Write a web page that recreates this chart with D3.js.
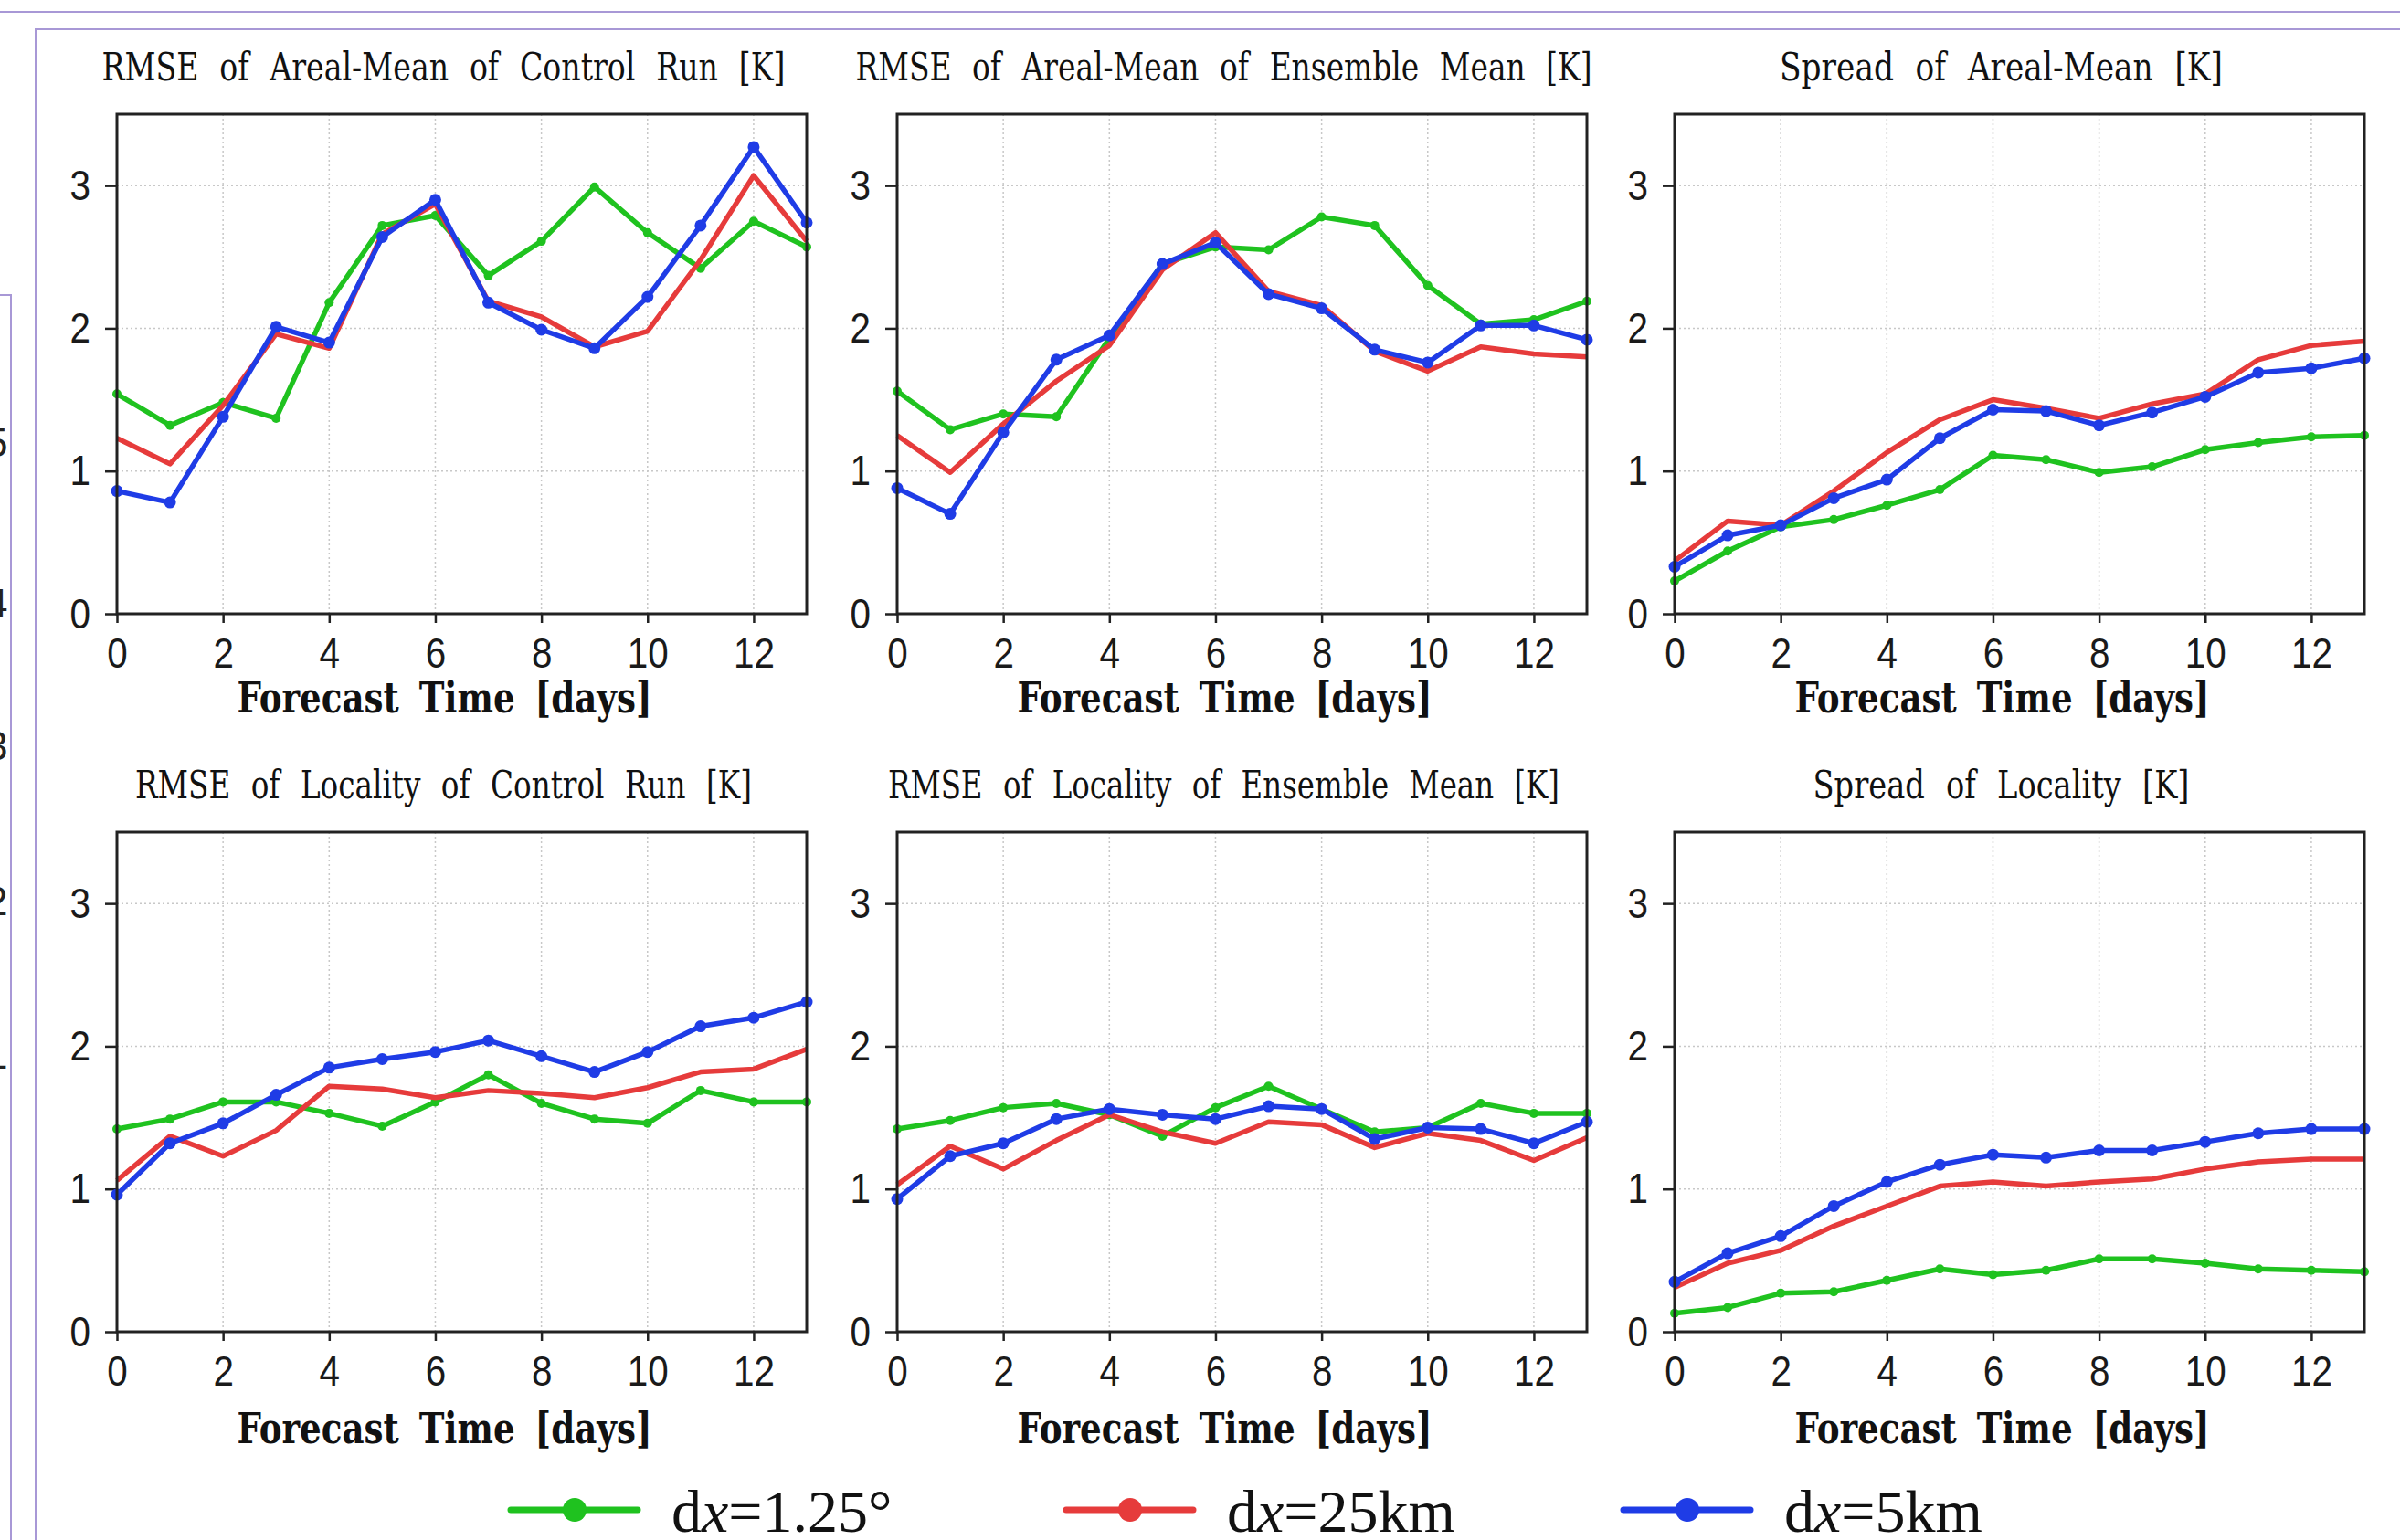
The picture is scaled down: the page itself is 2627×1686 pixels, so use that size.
<!DOCTYPE html>
<html>
<head>
<meta charset="utf-8">
<script src="https://cdn.jsdelivr.net/npm/d3@7"></script>
<style>
  html, body { margin: 0; padding: 0; background: #fff; }
  svg { display: block; }
</style>
</head>
<body>
<div id="chart"></div>
<script>
// forecast days on the x axis
const days = [0, 1, 2, 3, 4, 5, 6, 7, 8, 9, 10, 11, 12, 13];
const xTicks = [0, 2, 4, 6, 8, 10, 12];
const yTicks = [0, 1, 2, 3];

const panelTitles = [
  "RMSE of Areal-Mean of Control Run [K]",
  "RMSE of Areal-Mean of Ensemble Mean [K]",
  "Spread of Areal-Mean [K]",
  "RMSE of Locality of Control Run [K]",
  "RMSE of Locality of Ensemble Mean [K]",
  "Spread of Locality [K]"
];
const xLabel = "Forecast Time [days]";

// series values (one array per panel and resolution)
const areaCtrl125 = [1.54, 1.32, 1.48, 1.37, 2.18, 2.72, 2.79, 2.37, 2.61, 2.99, 2.67, 2.42, 2.75, 2.57];
const areaCtrl25  = [1.23, 1.05, 1.46, 1.96, 1.86, 2.66, 2.87, 2.19, 2.08, 1.87, 1.98, 2.48, 3.07, 2.61];
const areaCtrl5   = [0.86, 0.78, 1.38, 2.01, 1.90, 2.64, 2.90, 2.18, 1.99, 1.86, 2.22, 2.72, 3.27, 2.74];

const areaEns125 = [1.56, 1.29, 1.40, 1.38, 1.93, 2.45, 2.57, 2.55, 2.78, 2.72, 2.30, 2.03, 2.06, 2.19];
const areaEns25  = [1.25, 0.99, 1.33, 1.63, 1.88, 2.41, 2.67, 2.26, 2.16, 1.84, 1.70, 1.87, 1.82, 1.80];
const areaEns5   = [0.88, 0.70, 1.27, 1.78, 1.95, 2.45, 2.60, 2.24, 2.14, 1.85, 1.76, 2.02, 2.02, 1.92];

const areaSpr125 = [0.23, 0.44, 0.61, 0.66, 0.76, 0.87, 1.11, 1.08, 0.99, 1.03, 1.15, 1.20, 1.24, 1.25];
const areaSpr25  = [0.37, 0.65, 0.62, 0.86, 1.13, 1.36, 1.50, 1.44, 1.37, 1.47, 1.54, 1.78, 1.88, 1.91];
const areaSpr5   = [0.33, 0.55, 0.62, 0.81, 0.94, 1.23, 1.43, 1.42, 1.32, 1.41, 1.52, 1.69, 1.72, 1.79];

const locCtrl125 = [1.42, 1.49, 1.61, 1.61, 1.53, 1.44, 1.61, 1.80, 1.60, 1.49, 1.46, 1.69, 1.61, 1.61];
const locCtrl25  = [1.06, 1.37, 1.23, 1.41, 1.72, 1.70, 1.64, 1.69, 1.67, 1.64, 1.71, 1.82, 1.84, 1.98];
const locCtrl5   = [0.96, 1.32, 1.46, 1.66, 1.85, 1.91, 1.96, 2.04, 1.93, 1.82, 1.96, 2.14, 2.20, 2.31];

const locEns125 = [1.42, 1.48, 1.57, 1.60, 1.52, 1.37, 1.57, 1.72, 1.56, 1.40, 1.43, 1.60, 1.53, 1.53];
const locEns25  = [1.03, 1.30, 1.14, 1.34, 1.52, 1.40, 1.32, 1.47, 1.45, 1.29, 1.39, 1.34, 1.20, 1.36];
const locEns5   = [0.93, 1.23, 1.32, 1.49, 1.56, 1.52, 1.49, 1.58, 1.56, 1.35, 1.43, 1.42, 1.32, 1.47];

const locSpr125 = [0.13, 0.17, 0.27, 0.28, 0.36, 0.44, 0.40, 0.43, 0.51, 0.51, 0.48, 0.44, 0.43, 0.42];
const locSpr25  = [0.31, 0.48, 0.57, 0.74, 0.88, 1.02, 1.05, 1.02, 1.05, 1.07, 1.14, 1.19, 1.21, 1.21];
const locSpr5   = [0.35, 0.55, 0.67, 0.88, 1.05, 1.17, 1.24, 1.22, 1.27, 1.27, 1.33, 1.39, 1.42, 1.42];

const seriesNames = ["1.25°", "25km", "5km"];
const seriesColors = ["#1fc21f", "#e63b3b", "#1f3ce6"];
const markerRadius = [5, 0, 6.5];

const panelSeries = [
  [areaCtrl125, areaCtrl25, areaCtrl5],
  [areaEns125, areaEns25, areaEns5],
  [areaSpr125, areaSpr25, areaSpr5],
  [locCtrl125, locCtrl25, locCtrl5],
  [locEns125, locEns25, locEns5],
  [locSpr125, locSpr25, locSpr5]
];

// layout
const W = 2627, H = 1686;
const colX = [128, 982, 1833];
const rowY = [125, 911];
const plotW = 755, plotH = 547;
const xLabelOffset = [108, 122];
const titleWidths = [748, 806, 485, 675, 735, 412];
const frameColor = "#a898d6";
const serifFont = "DejaVu Serif Condensed, DejaVu Serif, serif";
const digitScale = 0.86;

const svg = d3.select("#chart")
  .append("svg")
  .attr("width", W)
  .attr("height", H)
  .attr("viewBox", `0 0 ${W} ${H}`);

svg.append("rect").attr("width", W).attr("height", H).attr("fill", "#fff");

// purple page frames around the figure
const frame = svg.append("g")
  .attr("fill", "none")
  .attr("stroke", frameColor)
  .attr("stroke-width", 2);
frame.append("line").attr("x1", 0).attr("y1", 13).attr("x2", W).attr("y2", 13);
frame.append("polyline").attr("points", `39,${H} 39,32 ${W},32`);
frame.append("polyline").attr("points", `0,323 12,323 12,${H}`);

// leftover glyph edges from the neighbouring figure
svg.append("clipPath").attr("id", "leftclip")
  .append("rect").attr("x", 0).attr("y", 323).attr("width", 11).attr("height", H);
svg.append("g")
  .attr("clip-path", "url(#leftclip)")
  .selectAll("text")
  .data([["5", 500], ["4", 676], ["3", 832], ["2", 1002], ["1", 1170]])
  .join("text")
  .attr("x", -16)
  .attr("y", (d) => d[1])
  .attr("font-family", "Liberation Sans, sans-serif")
  .attr("font-size", 44)
  .attr("fill", "#222")
  .text((d) => d[0]);

const x = d3.scaleLinear().domain([0, 13]).range([0, plotW]);
const y = d3.scaleLinear().domain([0, 3.5]).range([plotH, 0]);

const line = d3.line()
  .x((d, i) => x(days[i]))
  .y((d) => y(d));

panelSeries.forEach((series, p) => {
  const row = Math.floor(p / 3);
  const col = p % 3;
  const g = svg.append("g")
    .attr("transform", `translate(${colX[col]},${rowY[row]})`);

  // dotted grid
  const grid = g.append("g")
    .attr("stroke", "#c8c8c8")
    .attr("stroke-width", 1.5)
    .attr("stroke-dasharray", "2,3");
  grid.selectAll("line.gy")
    .data(yTicks.filter((t) => t > 0))
    .join("line")
    .attr("class", "gy")
    .attr("x1", 0).attr("x2", plotW)
    .attr("y1", (d) => y(d)).attr("y2", (d) => y(d));
  grid.selectAll("line.gx")
    .data(xTicks.filter((t) => t > 0))
    .join("line")
    .attr("class", "gx")
    .attr("y1", 0).attr("y2", plotH)
    .attr("x1", (d) => x(d)).attr("x2", (d) => x(d));

  // axes
  const yAxis = g.append("g")
    .call(d3.axisLeft(y).tickValues(yTicks).tickFormat(d3.format("d")).tickSize(13).tickPadding(16));
  const xAxis = g.append("g")
    .attr("transform", `translate(0,${plotH})`)
    .call(d3.axisBottom(x).tickValues(xTicks).tickFormat(d3.format("d")).tickSize(10).tickPadding(16));
  [yAxis, xAxis].forEach((a) => {
    a.select(".domain").remove();
    a.selectAll(".tick line").attr("stroke", "#222").attr("stroke-width", 2.5);
    a.selectAll(".tick text")
      .attr("fill", "#1a1a1a")
      .attr("font-family", "Liberation Sans, sans-serif")
      .attr("font-size", 47)
      .attr("transform", `scale(${digitScale},1)`);
  });
  // undo the narrowing shift on the left labels
  yAxis.selectAll(".tick text").attr("x", -29 / digitScale);

  // series lines and markers
  series.forEach((vals, s) => {
    g.append("path")
      .datum(vals)
      .attr("fill", "none")
      .attr("stroke", seriesColors[s])
      .attr("stroke-width", 5.5)
      .attr("stroke-linejoin", "round")
      .attr("d", line);
    if (markerRadius[s] > 0) {
      g.selectAll(null)
        .data(vals)
        .join("circle")
        .attr("cx", (d, i) => x(days[i]))
        .attr("cy", (d) => y(d))
        .attr("r", markerRadius[s])
        .attr("fill", seriesColors[s]);
    }
  });

  // plot frame
  g.append("rect")
    .attr("width", plotW)
    .attr("height", plotH)
    .attr("fill", "none")
    .attr("stroke", "#222")
    .attr("stroke-width", 3);

  // title
  g.append("text")
    .attr("x", plotW / 2 - 20)
    .attr("y", -37)
    .attr("text-anchor", "middle")
    .attr("font-family", serifFont)
    .attr("font-stretch", "condensed")
    .attr("font-size", 42)
    .attr("word-spacing", 14)
    .attr("textLength", titleWidths[p])
    .attr("lengthAdjust", "spacingAndGlyphs")
    .attr("fill", "#111")
    .text(panelTitles[p]);

  // x label
  g.append("text")
    .attr("x", plotW / 2 - 19)
    .attr("y", plotH + xLabelOffset[row])
    .attr("text-anchor", "middle")
    .attr("font-family", serifFont)
    .attr("font-stretch", "condensed")
    .attr("font-weight", "bold")
    .attr("font-size", 46)
    .attr("word-spacing", 10)
    .attr("textLength", 454)
    .attr("lengthAdjust", "spacingAndGlyphs")
    .attr("fill", "#111")
    .text(xLabel);
});

// legend along the bottom
const legendX = [559, 1167, 1777];
const legend = svg.append("g");
seriesNames.forEach((name, s) => {
  const lg = legend.append("g").attr("transform", `translate(${legendX[s]},1653)`);
  lg.append("line")
    .attr("x1", 0).attr("x2", 139)
    .attr("stroke", seriesColors[s])
    .attr("stroke-width", 7)
    .attr("stroke-linecap", "round");
  lg.append("circle")
    .attr("cx", 70)
    .attr("r", 13)
    .attr("fill", seriesColors[s]);
  const t = lg.append("text")
    .attr("x", 176)
    .attr("y", 24)
    .attr("font-family", "Liberation Serif, serif")
    .attr("font-size", 66)
    .attr("fill", "#111");
  t.append("tspan").text("d");
  t.append("tspan").attr("font-style", "italic").text("x");
  t.append("tspan").text("=" + name);
});
</script>
</body>
</html>
